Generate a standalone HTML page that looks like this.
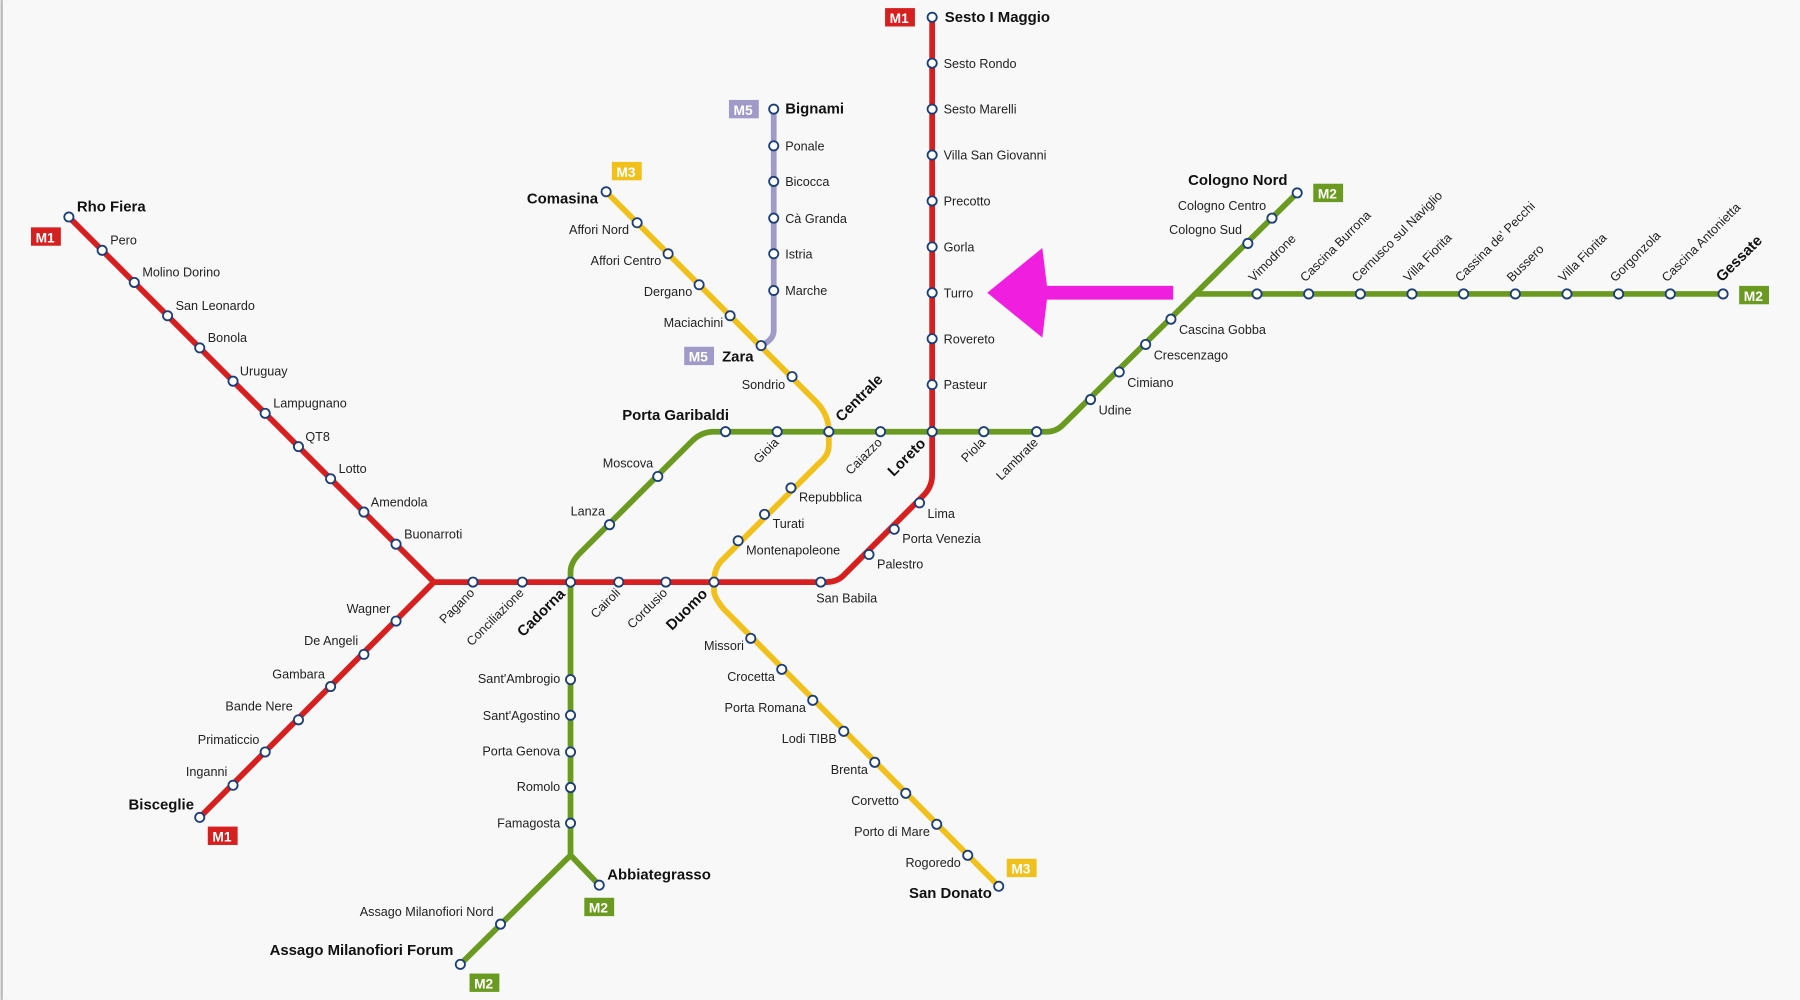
<!DOCTYPE html>
<html><head><meta charset="utf-8"><style>
html,body{margin:0;padding:0;background:#f8f8f8;}
svg{display:block}
text{font-family:"Liberation Sans",Arial,sans-serif;fill:#222;font-size:11px}
.b{font-weight:bold;font-size:13px;fill:#111}
.bd{font-weight:bold;font-size:12px;fill:#fff}
</style></head><body>
<svg width="1800" height="1000" viewBox="0 0 1568 871" xmlns="http://www.w3.org/2000/svg">
<rect width="1568" height="871" fill="#f8f8f8"/>
<line x1="1.5" y1="0" x2="1.5" y2="871" stroke="#bbb" stroke-width="2"/>
<g fill="none" stroke-width="5" stroke-linejoin="round" stroke-linecap="round">
<!-- M5 -->
<path d="M674,95 V288 Q674,296 663,301" stroke="#a09ac9"/>
<!-- M3 -->
<path d="M528,167 L712,351 Q722,362 722,376 V388 Q722,396 715,402 L628,489 Q622,496 622,507 V515 Q622,520 630,530 L870,772" stroke="#f2c01a"/>
<!-- M2 -->
<path d="M401,840 L497,745 L522,771 M497,745 V498 Q497,490 505,482 L603,384 Q611,376 622,376 H912 Q920,376 926,370 L1130,168 M1043,256 H1501" stroke="#6a9a1f"/>
<!-- M1 -->
<path d="M60,189 L378,507 L174,712 M378,507 H720 Q730,507 736,500 L804,432 Q812,424 812,414 V15" stroke="#d71f1f"/>
</g>
<!-- stations -->
<g fill="#fff" stroke="#1c3f7a" stroke-width="1.6">
<circle cx="60" cy="189" r="4"/><circle cx="89" cy="218" r="4"/><circle cx="117" cy="246" r="4"/><circle cx="146" cy="275" r="4"/><circle cx="174" cy="303" r="4"/><circle cx="203" cy="332" r="4"/><circle cx="231" cy="360" r="4"/><circle cx="260" cy="389" r="4"/><circle cx="288" cy="417" r="4"/><circle cx="317" cy="446" r="4"/><circle cx="345" cy="474" r="4"/>
<circle cx="345" cy="541" r="4"/><circle cx="317" cy="570" r="4"/><circle cx="288" cy="598" r="4"/><circle cx="260" cy="627" r="4"/><circle cx="231" cy="655" r="4"/><circle cx="203" cy="684" r="4"/><circle cx="174" cy="712" r="4"/>
<circle cx="412" cy="507" r="4"/><circle cx="455" cy="507" r="4"/><circle cx="497" cy="507" r="4"/><circle cx="539" cy="507" r="4"/><circle cx="580" cy="507" r="4"/><circle cx="622" cy="507" r="4"/><circle cx="715" cy="507" r="4"/>
<circle cx="757" cy="483" r="4"/><circle cx="779" cy="461" r="4"/><circle cx="801" cy="438" r="4"/>
<circle cx="812" cy="15" r="4"/><circle cx="812" cy="55" r="4"/><circle cx="812" cy="95" r="4"/><circle cx="812" cy="135" r="4"/><circle cx="812" cy="175" r="4"/><circle cx="812" cy="215" r="4"/><circle cx="812" cy="255" r="4"/><circle cx="812" cy="295" r="4"/><circle cx="812" cy="335" r="4"/><circle cx="812" cy="376" r="4"/>
<circle cx="401" cy="840" r="4"/><circle cx="436" cy="805" r="4"/><circle cx="522" cy="771" r="4"/>
<circle cx="497" cy="717" r="4"/><circle cx="497" cy="686" r="4"/><circle cx="497" cy="655" r="4"/><circle cx="497" cy="623" r="4"/><circle cx="497" cy="592" r="4"/>
<circle cx="531" cy="457" r="4"/><circle cx="573" cy="415" r="4"/><circle cx="632" cy="376" r="4"/><circle cx="677" cy="376" r="4"/><circle cx="722" cy="376" r="4"/><circle cx="767" cy="376" r="4"/><circle cx="857" cy="376" r="4"/><circle cx="903" cy="376" r="4"/>
<circle cx="950" cy="348" r="4"/><circle cx="975" cy="324" r="4"/><circle cx="998" cy="300" r="4"/><circle cx="1020" cy="278" r="4"/>
<circle cx="1087" cy="212" r="4"/><circle cx="1108" cy="190" r="4"/><circle cx="1130" cy="168" r="4"/>
<circle cx="1095" cy="256" r="4"/><circle cx="1140" cy="256" r="4"/><circle cx="1185" cy="256" r="4"/><circle cx="1230" cy="256" r="4"/><circle cx="1275" cy="256" r="4"/><circle cx="1320" cy="256" r="4"/><circle cx="1365" cy="256" r="4"/><circle cx="1410" cy="256" r="4"/><circle cx="1455" cy="256" r="4"/><circle cx="1501" cy="256" r="4"/>
<circle cx="528" cy="167" r="4"/><circle cx="555" cy="194" r="4"/><circle cx="582" cy="221" r="4"/><circle cx="609" cy="248" r="4"/><circle cx="636" cy="275" r="4"/><circle cx="663" cy="301" r="4"/><circle cx="690" cy="328" r="4"/>
<circle cx="689" cy="425" r="4"/><circle cx="666" cy="448" r="4"/><circle cx="643" cy="471" r="4"/>
<circle cx="654" cy="556" r="4"/><circle cx="681" cy="583" r="4"/><circle cx="708" cy="610" r="4"/><circle cx="735" cy="637" r="4"/><circle cx="762" cy="664" r="4"/><circle cx="789" cy="691" r="4"/><circle cx="816" cy="718" r="4"/><circle cx="843" cy="745" r="4"/><circle cx="870" cy="772" r="4"/>
<circle cx="674" cy="95" r="4"/><circle cx="674" cy="127" r="4"/><circle cx="674" cy="158" r="4"/><circle cx="674" cy="190" r="4"/><circle cx="674" cy="221" r="4"/><circle cx="674" cy="253" r="4"/>
</g>
<!-- arrow -->
<path d="M1022,249 H912 L908,216 L860,255 L908,294 L912,261 H1022 Z" fill="#f01fe0"/>
<!-- badges -->
<g>
<rect x="27" y="198" width="26" height="16" fill="#d71f1f"/><text class="bd" x="31" y="211">M1</text>
<rect x="181" y="720" width="26" height="16" fill="#d71f1f"/><text class="bd" x="185" y="733">M1</text>
<rect x="771" y="7" width="26" height="16" fill="#d71f1f"/><text class="bd" x="775" y="20">M1</text>
<rect x="533" y="141" width="26" height="16" fill="#f2c01a"/><text class="bd" x="537" y="154">M3</text>
<rect x="877" y="748" width="26" height="16" fill="#f2c01a"/><text class="bd" x="881" y="761">M3</text>
<rect x="635" y="87" width="26" height="16" fill="#a09ac9"/><text class="bd" x="639" y="100">M5</text>
<rect x="596" y="302" width="26" height="16" fill="#a09ac9"/><text class="bd" x="600" y="315">M5</text>
<rect x="1144" y="160" width="26" height="16" fill="#6a9a1f"/><text class="bd" x="1148" y="173">M2</text>
<rect x="1515" y="249" width="26" height="16" fill="#6a9a1f"/><text class="bd" x="1519" y="262">M2</text>
<rect x="509" y="782" width="26" height="16" fill="#6a9a1f"/><text class="bd" x="513" y="795">M2</text>
<rect x="409" y="848" width="26" height="16" fill="#6a9a1f"/><text class="bd" x="413" y="861">M2</text>
</g>
<!-- labels -->
<text class="b" x="67" y="184">Rho Fiera</text>
<text x="96" y="213">Pero</text><text x="124" y="241">Molino Dorino</text><text x="153" y="270">San Leonardo</text><text x="181" y="298">Bonola</text><text x="209" y="327">Uruguay</text><text x="238" y="355">Lampugnano</text><text x="266" y="384">QT8</text><text x="295" y="412">Lotto</text><text x="323" y="441">Amendola</text><text x="352" y="469">Buonarroti</text>
<g text-anchor="end"><text x="340" y="534">Wagner</text><text x="312" y="562">De Angeli</text><text x="283" y="591">Gambara</text><text x="255" y="619">Bande Nere</text><text x="226" y="648">Primaticcio</text><text x="198" y="676">Inganni</text><text class="b" x="169" y="705">Bisceglie</text></g>
<text class="b" x="823" y="19">Sesto I Maggio</text>
<text x="822" y="59">Sesto Rondo</text><text x="822" y="99">Sesto Marelli</text><text x="822" y="139">Villa San Giovanni</text><text x="822" y="179">Precotto</text><text x="822" y="219">Gorla</text><text x="822" y="259">Turro</text><text x="822" y="299">Rovereto</text><text x="822" y="339">Pasteur</text>
<text x="808" y="451">Lima</text><text x="786" y="473">Porta Venezia</text><text x="764" y="495">Palestro</text><text x="711" y="525">San Babila</text>
<g text-anchor="end">
<text transform="translate(414,517) rotate(-45)">Pagano</text>
<text transform="translate(457,517) rotate(-45)">Conciliazione</text>
<text class="b" transform="translate(493,518) rotate(-45)">Cadorna</text>
<text transform="translate(541,517) rotate(-45)">Cairoli</text>
<text transform="translate(582,517) rotate(-45)">Cordusio</text>
<text class="b" transform="translate(617,518) rotate(-45)">Duomo</text>
<text transform="translate(679,386) rotate(-45)">Gioia</text>
<text transform="translate(769,386) rotate(-45)">Caiazzo</text>
<text class="b" transform="translate(807,387) rotate(-45)">Loreto</text>
<text transform="translate(859,386) rotate(-45)">Piola</text>
<text transform="translate(905,386) rotate(-45)">Lambrate</text>
</g>
<text class="b" transform="translate(733,368) rotate(-45)">Centrale</text>
<g>
<text transform="translate(1092,246) rotate(-45)">Vimodrone</text>
<text transform="translate(1137,246) rotate(-45)">Cascina Burrona</text>
<text transform="translate(1182,246) rotate(-45)">Cernusco sul Naviglio</text>
<text transform="translate(1227,246) rotate(-45)">Villa Fiorita</text>
<text transform="translate(1272,246) rotate(-45)">Cassina de' Pecchi</text>
<text transform="translate(1317,246) rotate(-45)">Bussero</text>
<text transform="translate(1362,246) rotate(-45)">Villa Fiorita</text>
<text transform="translate(1407,246) rotate(-45)">Gorgonzola</text>
<text transform="translate(1452,246) rotate(-45)">Cascina Antonietta</text>
<text class="b" transform="translate(1500,246) rotate(-45)">Gessate</text>
</g>
<text class="b" x="1035" y="161">Cologno Nord</text>
<g text-anchor="end"><text x="1103" y="183">Cologno Centro</text><text x="1082" y="204">Cologno Sud</text></g>
<text x="1027" y="291">Cascina Gobba</text><text x="1005" y="313">Crescenzago</text><text x="982" y="337">Cimiano</text><text x="957" y="361">Udine</text>
<text class="b" x="542" y="366">Porta Garibaldi</text>
<g text-anchor="end"><text x="569" y="407">Moscova</text><text x="527" y="449">Lanza</text>
<text x="488" y="595">Sant'Ambrogio</text><text x="488" y="627">Sant'Agostino</text><text x="488" y="658">Porta Genova</text><text x="488" y="689">Romolo</text><text x="488" y="721">Famagosta</text>
<text x="430" y="798">Assago Milanofiori Nord</text><text class="b" x="395" y="832">Assago Milanofiori Forum</text>
<text class="b" x="521" y="177">Comasina</text><text x="548" y="204">Affori Nord</text><text x="576" y="231">Affori Centro</text><text x="603" y="258">Dergano</text><text x="630" y="285">Maciachini</text><text x="684" y="339">Sondrio</text>
<text x="648" y="566">Missori</text><text x="675" y="593">Crocetta</text><text x="702" y="620">Porta Romana</text><text x="729" y="647">Lodi TIBB</text><text x="756" y="674">Brenta</text><text x="783" y="701">Corvetto</text><text x="810" y="728">Porto di Mare</text><text x="837" y="755">Rogoredo</text><text class="b" x="864" y="782">San Donato</text>
</g>
<text class="b" x="529" y="766">Abbiategrasso</text>
<text class="b" x="629" y="315">Zara</text>
<text x="696" y="437">Repubblica</text><text x="673" y="460">Turati</text><text x="650" y="483">Montenapoleone</text>
<text class="b" x="684" y="99">Bignami</text>
<text x="684" y="131">Ponale</text><text x="684" y="162">Bicocca</text><text x="684" y="194">Cà Granda</text><text x="684" y="225">Istria</text><text x="684" y="257">Marche</text>
</svg>
</body></html>
